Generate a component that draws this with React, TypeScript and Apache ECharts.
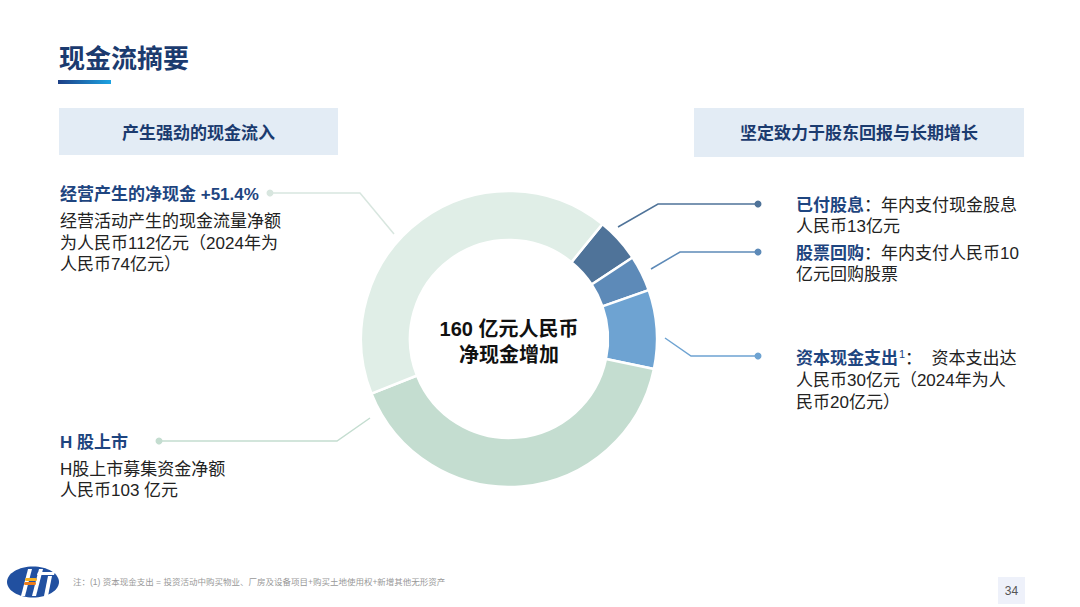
import React, { useEffect, useRef } from "react";
import * as echarts from "echarts";

const sliceNames = ["已付股息", "股票回购", "资本现金支出", "H股上市", "经营产生的净现金"];
const sliceValues = [13, 10.5, 23, 109, 112];
const sliceColors = ["#4f7399", "#5d8ab8", "#6ea3d2", "#c4ddd0", "#e0eee7"];

const centerLines = ["160 亿元人民币", "净现金增加"];
const boxHeaders = ["产生强劲的现金流入", "坚定致力于股东回报与长期增长"];

const FONT = '"Liberation Sans", "Noto Sans CJK SC", sans-serif';
const NAVY = "#1e4580";
const BODY = "#222222";
const DY = 1.5;

export default function App() {
  const ref = useRef<HTMLDivElement>(null);
  useEffect(() => {
    if (!ref.current) return;
    const chart = echarts.init(ref.current, undefined, { renderer: "svg" });

    const txt = (text: string, x: number, y: number, size: number, fill: string, weight: any = "normal", align: any = "left") => ({
      type: "text",
      style: {
        text,
        x,
        y: y + DY,
        fill,
        fontSize: size,
        fontWeight: weight,
        fontFamily: FONT,
        textAlign: align,
        textVerticalAlign: "middle",
      },
      z: 10,
    });

    // multi-line block: y = centre of first line
    const block = (lines: string[], x: number, y: number, lh: number) => ({
      type: "text",
      style: {
        text: lines.join("\n"),
        x,
        y: y - lh / 2 + DY,
        fill: BODY,
        fontSize: 17,
        fontFamily: FONT,
        lineHeight: lh,
        textAlign: "left",
        textVerticalAlign: "top",
      },
      z: 10,
    });

    const richBlock = (text: string, x: number, y: number, lh: number) => ({
      type: "text",
      style: {
        text,
        x,
        y: y - lh / 2 + DY,
        textVerticalAlign: "top",
        fontFamily: FONT,
        fontSize: 17,
        lineHeight: lh,
        rich: {
          b: { fontSize: 17, fontWeight: "bold", fill: NAVY, fontFamily: FONT, lineHeight: lh },
          r: { fontSize: 17, fill: BODY, fontFamily: FONT, lineHeight: lh },
          s: { fontSize: 11, fill: NAVY, fontFamily: FONT, padding: [0, 0, 9, 1], lineHeight: lh },
        },
      },
      z: 10,
    });

    const line = (pts: number[][], color: string, dot: number[]) => [
      { type: "polyline", shape: { points: pts }, style: { stroke: color, lineWidth: 1.5, fill: null }, z: 5 },
      { type: "circle", shape: { cx: dot[0], cy: dot[1], r: 3.5 }, style: { fill: color }, z: 6 },
    ];

    const LH = 21.7;

    const graphic: any[] = [
      // title
      txt("现金流摘要", 59, 57, 26, "#1b3b6f", "bold"),
      {
        type: "rect",
        shape: { x: 58, y: 80, width: 53, height: 4 },
        style: {
          fill: new echarts.graphic.LinearGradient(0, 0, 1, 0, [
            { offset: 0, color: "#1d3f86" },
            { offset: 1, color: "#1ca3e2" },
          ]),
        },
      },
      // header boxes
      { type: "rect", shape: { x: 59, y: 108, width: 279, height: 47 }, style: { fill: "#e3ecf5" } },
      txt(boxHeaders[0], 198.5, 132, 17, "#1b3b6f", "bold", "center"),
      { type: "rect", shape: { x: 694, y: 108, width: 330, height: 49 }, style: { fill: "#e3ecf5" } },
      txt(boxHeaders[1], 859, 132, 17, "#1b3b6f", "bold", "center"),
      // left texts
      txt("经营产生的净现金 +51.4%", 60, 193, 17, NAVY, "bold"),
      block(["经营活动产生的现金流量净额", "为人民币112亿元（2024年为", "人民币74亿元）"], 60, 220, LH),
      txt("H 股上市", 60, 441, 17, NAVY, "bold"),
      block(["H股上市募集资金净额", "人民币103 亿元"], 60, 467.5, LH),
      // right texts
      richBlock("{b|已付股息}{r|：年内支付现金股息}\n{r|人民币13亿元}", 796, 203.5, LH),
      richBlock("{b|股票回购}{r|：年内支付人民币10}\n{r|亿元回购股票}", 796, 251.5, LH),
      richBlock("{b|资本现金支出}{s|1}{r|：  资本支出达}\n{r|人民币30亿元（2024年为人}\n{r|民币20亿元）}", 796, 357, 22),
      // center text
      txt(centerLines[0], 509, 327.5, 20, "#111111", "bold", "center"),
      txt(centerLines[1], 509, 353.5, 20, "#111111", "bold", "center"),
      // leader lines
      ...line([[270, 193], [360, 193], [394, 234]], "#d8e6df", [270, 193]),
      ...line([[159, 441], [337, 441], [370, 418]], "#c4ddd0", [159, 441]),
      ...line([[758, 204], [658, 204], [618, 227]], "#4f7399", [758, 204]),
      ...line([[758, 252], [680, 252], [651, 269]], "#5d8ab8", [758, 252]),
      ...line([[758, 356], [691, 356], [665, 338]], "#6ea3d2", [758, 356]),
      // footer
      txt("注：(1) 资本现金支出 = 投资活动中购买物业、厂房及设备项目+购买土地使用权+新增其他无形资产", 73, 580.5, 8.5, "#999999"),
      { type: "rect", shape: { x: 998, y: 577, width: 27, height: 27 }, style: { fill: "#eef1fa" } },
      txt("34", 1011.5, 589.5, 12, "#555555", "normal", "center"),
      // logo
      { type: "ellipse", shape: { cx: 33, cy: 582, rx: 26, ry: 15.5 }, style: { fill: "#2150a0" } },
      { type: "polygon", shape: { points: [[21, 596], [25, 596], [32, 569], [28, 569]] }, style: { fill: "#ffffff" } },
      { type: "polygon", shape: { points: [[32, 596], [36, 596], [43, 569], [39, 569]] }, style: { fill: "#ffffff" } },
      { type: "polygon", shape: { points: [[38, 572], [55, 572], [54, 575], [37, 575]] }, style: { fill: "#ffffff" } },
      { type: "polygon", shape: { points: [[44, 596], [48, 596], [52, 576], [48, 576]] }, style: { fill: "#ffffff" } },
      { type: "rect", shape: { x: 25, y: 578, width: 12, height: 3, r: 1.5 }, style: { fill: "#f5b021" } },
      { type: "rect", shape: { x: 24, y: 582, width: 12, height: 3, r: 1.5 }, style: { fill: "#ee7d1a" } },
    ];

    chart.setOption({
      animation: false,
      backgroundColor: "#ffffff",
      graphic,
      series: [
        {
          type: "pie",
          center: [509, 339],
          radius: [99, 148],
          startAngle: 50.9,
          clockwise: true,
          label: { show: false },
          labelLine: { show: false },
          emphasis: { disabled: true },
          silent: true,
          itemStyle: { borderColor: "#ffffff", borderWidth: 2.5 },
          data: sliceNames.map((name, i) => ({
            name,
            value: sliceValues[i],
            itemStyle: { color: sliceColors[i] },
          })),
        },
      ],
    });
    return () => chart.dispose();
  }, []);
  return <div ref={ref} style={{ position: "fixed", left: 0, top: 0, width: 1080, height: 607 }} />;
}
